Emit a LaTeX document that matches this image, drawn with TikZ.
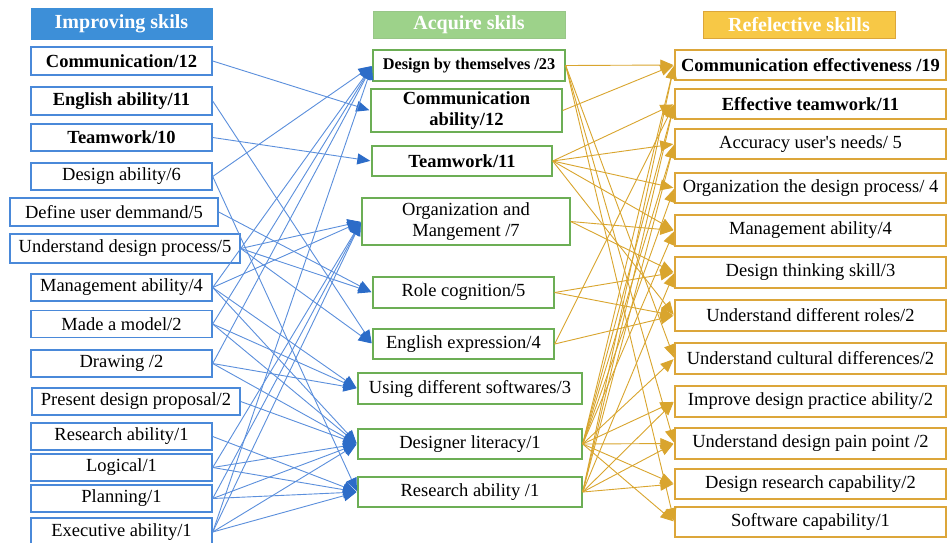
\documentclass[tikz,border=0pt]{standalone}
\usepackage{fontspec}
\setmainfont{Liberation Serif}
\usetikzlibrary{arrows.meta}
\definecolor{bluebd}{HTML}{4A89D9}
\definecolor{bluehd}{HTML}{3D8FD8}
\definecolor{blueln}{HTML}{5B8FDC}
\definecolor{bluetip}{HTML}{2C6CC8}
\definecolor{greenbd}{HTML}{6CAE55}
\definecolor{greenhd}{HTML}{9DD28A}
\definecolor{goldbd}{HTML}{DCA63A}
\definecolor{goldhd}{HTML}{F7C846}
\definecolor{goldln}{HTML}{D9A52E}
\begin{document}
\begin{tikzpicture}[x=1pt,y=-1pt,
  font=\fontsize{18.5}{21}\selectfont,
  box/.style={draw, line width=1.4pt, fill=white, inner sep=0pt, align=center,
    minimum height=28pt},
  lbox/.style={box, draw=bluebd},
  mbox/.style={box, draw=greenbd},
  rbox/.style={box, draw=goldbd, minimum width=271pt},
  head/.style={draw, line width=1pt, inner sep=0pt, text=white,
    font=\fontsize{20}{22}\selectfont\bfseries, minimum height=27pt},
  bl/.style={draw=blueln, line width=0.9pt, shorten >=1pt,
    -{Triangle[length=13pt,width=11pt,color=bluetip]}},
  gl/.style={draw=goldln, line width=0.9pt, shorten >=1pt,
    -{Triangle[length=13pt,width=11pt,color=goldln]}}
]
\useasboundingbox[fill=white] (0,0) rectangle (948,542);

% ---------- column headers ----------
\node[head, draw=bluehd, fill=bluehd, minimum width=181pt, minimum height=31pt] (hL) at (121.5,23.5) {Improving skils};
\node[head, draw=greenbd!70, fill=greenhd, minimum width=192pt] (hM) at (469,25) {Acquire skils};
\node[head, draw=goldbd, fill=goldhd, minimum width=192pt] (hR) at (799,25) {Refelective skills};

% ---------- improving skills ----------
\node[lbox, minimum width=181pt] (L1) at (121.5,61) {\textbf{Communication/12}};
\node[lbox, minimum width=181pt] (L2) at (121.5,101) {\textbf{English ability/11}};
\node[lbox, minimum width=181pt, minimum height=27pt] (L3) at (121.5,137.5) {\textbf{Teamwork/10}};
\node[lbox, minimum width=181pt, minimum height=27pt] (L4) at (121.5,176.5) {Design ability/6};
\node[lbox, minimum width=208pt] (L5) at (114,212) {Define user demmand/5};
\node[lbox, minimum width=230pt, minimum height=29pt] (L6) at (125,248.5) {Understand design process/5};
\node[lbox, minimum width=181pt, minimum height=27pt] (L7) at (121.5,287.5) {Management ability/4};
\node[lbox, minimum width=181pt, minimum height=27pt] (L8) at (121.5,324) {Made a model/2};
\node[lbox, minimum width=181pt, minimum height=27pt] (L9) at (121.5,363.5) {Drawing /2};
\node[lbox, minimum width=208pt, minimum height=27pt] (L10) at (136,401.5) {Present design proposal/2};
\node[lbox, minimum width=181pt, minimum height=27pt] (L11) at (121.5,436.5) {Research ability/1};
\node[lbox, minimum width=181pt, minimum height=27pt] (L12) at (121.5,467.5) {Logical/1};
\node[lbox, minimum width=181pt, minimum height=27pt] (L13) at (121.5,498.5) {Planning/1};
\node[lbox, minimum width=181pt, minimum height=28pt] (L14) at (121.5,532) {Executive ability/1};

% ---------- acquired skills ----------
\node[mbox, minimum width=192pt, minimum height=31pt, font=\fontsize{16.3}{19}\selectfont\bfseries] (M1) at (469,65.5) {Design by themselves /23};
\node[mbox, minimum width=191pt, minimum height=43pt, font=\fontsize{18.5}{21}\selectfont\bfseries] (M2) at (466.5,110.5) {Communication\\ability/12};
\node[mbox, minimum width=180pt, minimum height=30pt] (M3) at (462,161) {\textbf{Teamwork/11}};
\node[mbox, minimum width=208pt, minimum height=47pt] (M4) at (466,221.5) {Organization and\\Mangement /7};
\node[mbox, minimum width=181pt, minimum height=31pt] (M5) at (463.5,292.5) {Role cognition/5};
\node[mbox, minimum width=181pt, minimum height=30pt] (M6) at (463.5,344) {English expression/4};
\node[mbox, minimum width=224pt, minimum height=31pt] (M7) at (470,388.5) {Using different softwares/3};
\node[mbox, minimum width=224pt, minimum height=30pt] (M8) at (470,444) {Designer literacy/1};
\node[mbox, minimum width=224pt, minimum height=30pt] (M9) at (470,492) {Research ability /1};

% ---------- reflective skills ----------
\node[rbox, minimum height=30pt] (R1) at (810.5,65) {\textbf{Communication effectiveness /19}};
\node[rbox, minimum height=30pt] (R2) at (810.5,104) {\textbf{Effective teamwork/11}};
\node[rbox, minimum height=30pt] (R3) at (810.5,144) {Accuracy user\textquotesingle s needs/ 5};
\node[rbox, minimum height=30pt] (R4) at (810.5,188) {Organization the design process/ 4};
\node[rbox, minimum height=31pt] (R5) at (810.5,230.5) {Management ability/4};
\node[rbox, minimum height=31pt] (R6) at (810.5,272.5) {Design thinking skill/3};
\node[rbox, minimum height=31pt] (R7) at (810.5,315.5) {Understand different roles/2};
\node[rbox, minimum height=31pt] (R8) at (810.5,358.5) {Understand cultural differences/2};
\node[rbox, minimum height=31pt] (R9) at (810.5,401.5) {Improve design practice ability/2};
\node[rbox, minimum height=31pt] (R10) at (810.5,443.5) {Understand design pain point /2};
\node[rbox, minimum height=30pt] (R11) at (810.5,484) {Design research capability/2};
\node[rbox, minimum height=30pt] (R12) at (810.5,522) {Software capability/1};

% ---------- improving -> acquired ----------
\foreach \a/\b in {L1/M2, L2/M6, L3/M3, L4/M1, L4/M9, L5/M5, L6/M5, L6/M4, L6/M6,
  L7/M1, L7/M4, L7/M7, L7/M8, L8/M1, L8/M7, L8/M8, L9/M1, L9/M7, L9/M8,
  L10/M8, L11/M9, L12/M4, L12/M8, L12/M9, L13/M4, L13/M8, L13/M9,
  L14/M1, L14/M4, L14/M8, L14/M9}
  \draw[bl] (\a.east) -- (\b.west);

% ---------- acquired -> reflective ----------
\foreach \a/\b in {M1/R1, M1/R8, M1/R10, M1/R12, M2/R1,
  M3/R2, M3/R3, M3/R4, M3/R5, M3/R7, M4/R5, M4/R6, M5/R6, M5/R7, M6/R7, M6/R2,
  M8/R1, M8/R2, M8/R3, M8/R4, M8/R5, M8/R8, M8/R9, M8/R10, M8/R11, M8/R12,
  M9/R1, M9/R2, M9/R3, M9/R6, M9/R9, M9/R10, M9/R11}
  \draw[gl] (\a.east) -- (\b.west);
\end{tikzpicture}
\end{document}
